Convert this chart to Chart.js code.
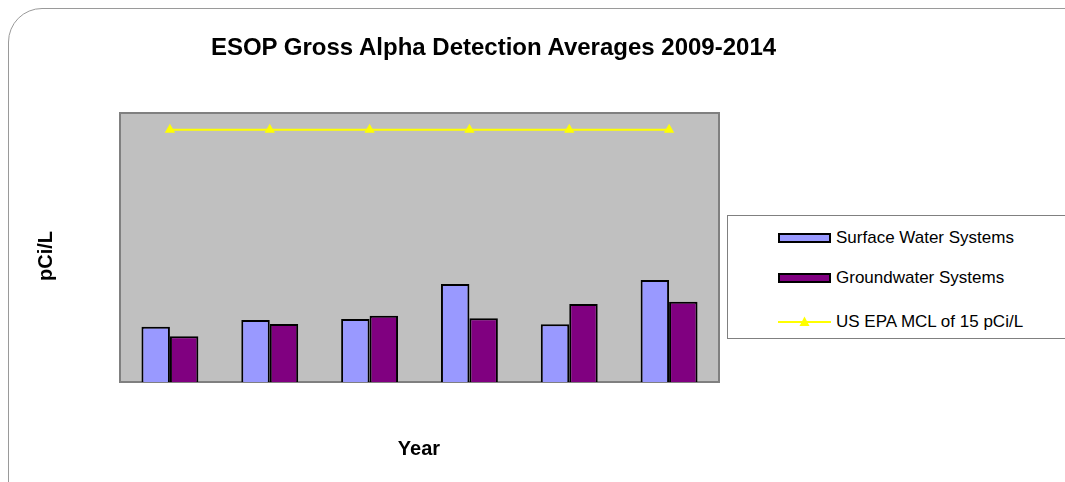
<!DOCTYPE html>
<html>
<head>
<meta charset="utf-8">
<script src="https://cdn.jsdelivr.net/npm/chart.js@4/dist/chart.umd.min.js"></script>
<style>
  html, body { margin:0; padding:0; background:#fff; }
  #wrap { position:relative; width:1065px; height:482px; overflow:hidden; font-family:"Liberation Sans", Arial, sans-serif; }
  #frame { position:absolute; left:8px; top:8px; width:1100px; height:520px; border:1px solid #9a9a9a; border-radius:34px; box-sizing:border-box; }
  canvas { position:absolute; left:0; top:0; }
  .t { position:absolute; color:#000; font-weight:bold; white-space:nowrap; line-height:1; }
  #title { left:0; width:987px; top:35px; text-align:center; font-size:24px; }
  #xt { left:0; width:838px; top:438px; text-align:center; font-size:20px; }
  #yt { left:45px; top:256px; font-size:20px; transform:translate(-50%,-50%) rotate(-90deg); }
  #legend { position:absolute; left:727px; top:215px; width:360px; height:124px; border:1px solid #808080; box-sizing:border-box; background:#fff; }
  .li { position:absolute; left:50px; height:20px; font-size:17px; white-space:nowrap; line-height:20px; }
  .sw { display:inline-block; vertical-align:middle; width:53px; height:10px; border:2px solid #000; box-sizing:border-box; margin-right:5px; }
  .li span.lab { vertical-align:middle; }
</style>
</head>
<body>
<div id="wrap">
  <div id="frame"></div>
  <canvas id="c" width="1065" height="482"></canvas>
  <div class="t" id="title">ESOP Gross Alpha Detection Averages 2009-2014</div>
  <div class="t" id="xt">Year</div>
  <div class="t" id="yt">pCi/L</div>
  <div id="legend"></div>
</div>
<script>
const categories = ["2009", "2010", "2011", "2012", "2013", "2014"];
const surfaceWater = [3.29, 3.69, 3.75, 5.83, 3.43, 6.06];
const groundwater = [2.72, 3.45, 3.94, 3.79, 4.64, 4.77];
const epaMCL = [15, 15, 15, 15, 15, 15];
const seriesNames = ["Surface Water Systems", "Groundwater Systems", "US EPA MCL of 15 pCi/L"];

const plotBg = {
  id: 'plotBg',
  beforeDatasetsDraw(chart) {
    const {ctx, chartArea:a} = chart;
    ctx.save();
    ctx.fillStyle = '#C0C0C0';
    ctx.fillRect(a.left, a.top, a.right - a.left, a.bottom - a.top);
    ctx.strokeStyle = '#808080';
    ctx.lineWidth = 2;
    ctx.strokeRect(a.left, a.top, a.right - a.left, a.bottom - a.top);
    ctx.restore();
  }
};

new Chart(document.getElementById('c'), {
  type: 'bar',
  data: {
    labels: categories,
    datasets: [
      { label: seriesNames[0], data: surfaceWater, backgroundColor: '#9999FF', borderColor: '#000', borderWidth: 2, order: 2 },
      { label: seriesNames[1], data: groundwater, backgroundColor: '#800080', borderColor: '#000', borderWidth: 2, order: 2 },
      { type: 'line', label: seriesNames[2], data: epaMCL, borderColor: '#FFFF00', backgroundColor: '#FFFF00',
        borderWidth: 2, pointStyle: 'triangle', pointRadius: 6, pointBorderWidth: 0, order: 1 }
    ]
  },
  options: {
    responsive: false,
    animation: false,
    layout: { padding: { left: 120, top: 113, right: 346, bottom: 100 } },
    datasets: { bar: { categoryPercentage: 0.57, barPercentage: 1.0 } },
    scales: {
      x: { display: false },
      y: { display: false, min: 0, max: 16 }
    },
    plugins: { legend: { display: false }, tooltip: { enabled: false }, title: { display: false } }
  },
  plugins: [plotBg]
});

// HTML legend
const lg = document.getElementById('legend');
const rows = [
  { top: 11, html: '<span class="sw" style="background:#9999FF"></span>' },
  { top: 51, html: '<span class="sw" style="background:#800080"></span>' },
  { top: 95, html: '<svg width="53" height="12" style="vertical-align:middle;margin-right:5px"><line x1="0" y1="6" x2="53" y2="6" stroke="#FFFF00" stroke-width="2"/><polygon points="26.5,0.5 31.5,10 21.5,10" fill="#FFFF00"/></svg>' }
];
rows.forEach((r, i) => {
  const d = document.createElement('div');
  d.className = 'li';
  d.style.top = r.top + 'px';
  d.innerHTML = r.html + '<span class="lab">' + seriesNames[i] + '</span>';
  lg.appendChild(d);
});
</script>
</body>
</html>
